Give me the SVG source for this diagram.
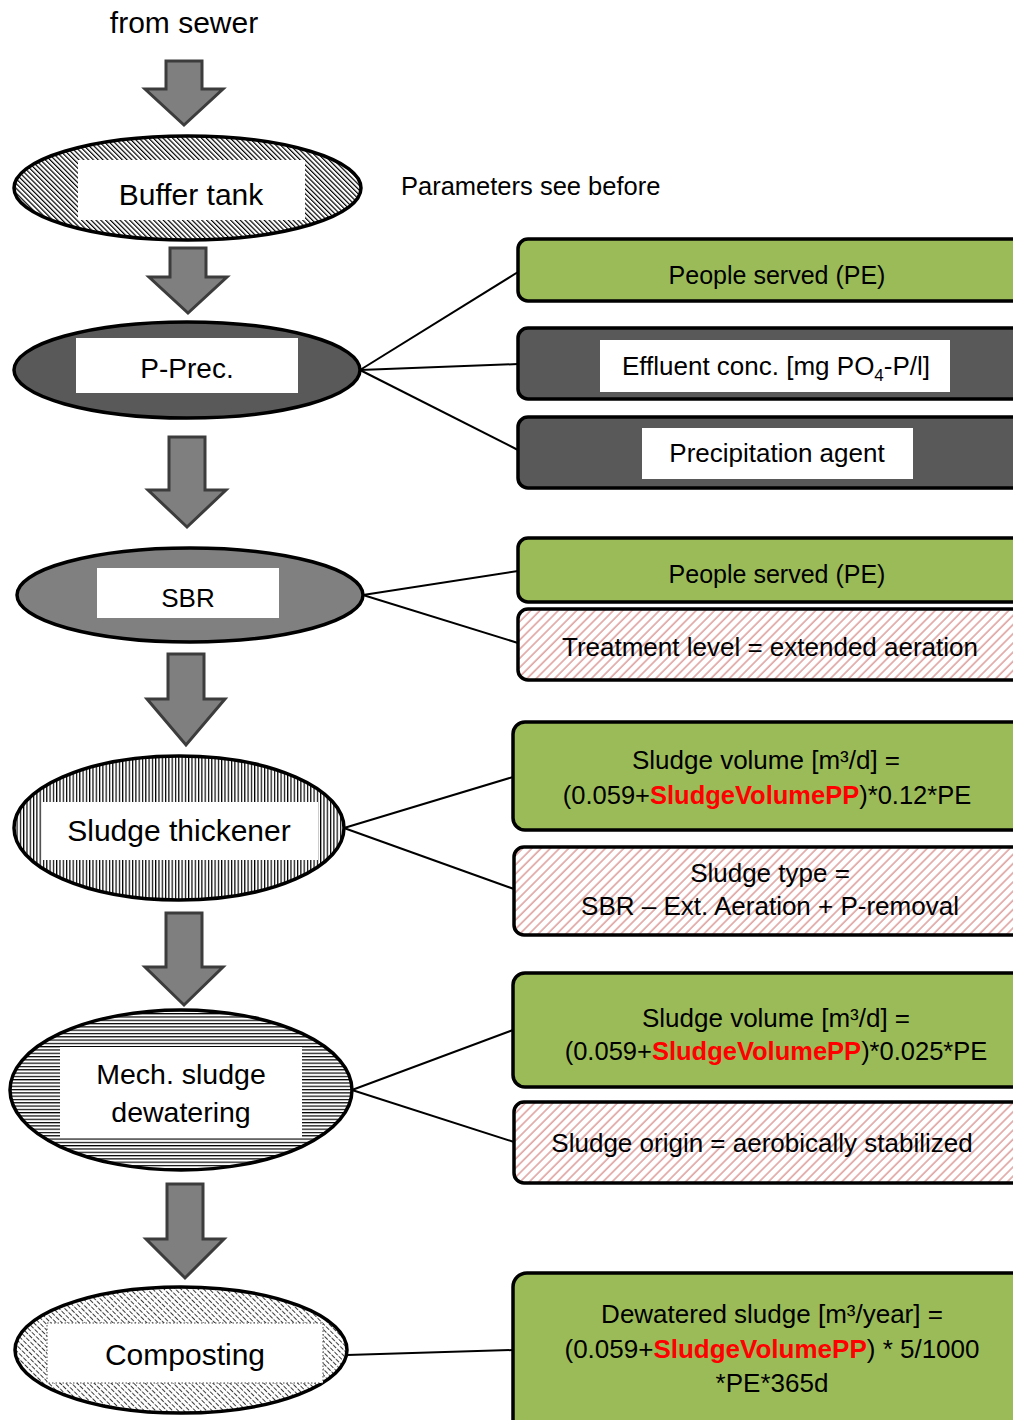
<svg xmlns="http://www.w3.org/2000/svg" width="1013" height="1420" viewBox="0 0 1013 1420">
<style>
text{font-family:"Liberation Sans",Arial,sans-serif;fill:#000}
.lbl{font-size:30px;text-anchor:middle}
.box{font-size:26px;text-anchor:middle}
.pe{font-size:25px}
.red{fill:#FF0000;font-weight:bold}
.ell{stroke:#000;stroke-width:3.5}
.arr{fill:#7f7f7f;stroke:#3c3c3c;stroke-width:3;stroke-linejoin:miter}
.rbox{stroke:#000;stroke-width:3.5}
.green{fill:#9BBB59}
.dark{fill:#595959}
.hatch{fill:url(#redHatch)}
.conn line{stroke:#000;stroke-width:2}
</style>
<defs>
<pattern id="diagDense" patternUnits="userSpaceOnUse" width="3.4" height="10" patternTransform="rotate(-45)">
<rect width="3.4" height="10" fill="#fff"/>
<line x1="0.6" y1="0" x2="0.6" y2="10" stroke="#000" stroke-width="1.2"/>
</pattern>
<pattern id="vert" patternUnits="userSpaceOnUse" width="3.3" height="10">
<rect width="3.3" height="10" fill="#fff"/>
<line x1="0.6" y1="0" x2="0.6" y2="10" stroke="#000" stroke-width="1.2"/>
</pattern>
<pattern id="horiz" patternUnits="userSpaceOnUse" width="10" height="3.3">
<rect width="10" height="3.3" fill="#fff"/>
<line x1="0" y1="0.6" x2="10" y2="0.6" stroke="#000" stroke-width="1.2"/>
</pattern>
<pattern id="dashDiag" patternUnits="userSpaceOnUse" width="4" height="6" patternTransform="rotate(-45)">
<rect width="4" height="6" fill="#fff"/>
<line x1="0.5" y1="0" x2="0.5" y2="6" stroke="#222" stroke-width="0.9" stroke-dasharray="3 1.5"/>
</pattern>
<pattern id="redHatch" patternUnits="userSpaceOnUse" width="6.5" height="10" patternTransform="rotate(45)">
<rect width="6.5" height="10" fill="#fff"/>
<line x1="1" y1="0" x2="1" y2="10" stroke="#DA9694" stroke-width="1.4"/>
</pattern>
</defs>

<text x="184" y="33" class="lbl">from sewer</text>
<text x="401" y="195" style="font-size:25.5px">Parameters see before</text>

<g id="flow-arrows">
<path class="arr" d="M166,61 H202 V89 H223 L184,125 L145,89 H166 Z"/>
<path class="arr" d="M170,248 H206 V277 H227 L188,313 L149,277 H170 Z"/>
<path class="arr" d="M169,437 H205 V490 H226 L187,527 L148,490 H169 Z"/>
<path class="arr" d="M168,654 H204 V699 H225 L186,745 L147,699 H168 Z"/>
<path class="arr" d="M166,913 H202 V967 H223 L184,1005 L145,967 H166 Z"/>
<path class="arr" d="M167,1184 H203 V1239 H224 L185,1278 L146,1239 H167 Z"/>
</g>

<g id="connectors" class="conn">
<line x1="360" y1="370" x2="518" y2="272"/>
<line x1="360" y1="370" x2="518" y2="364"/>
<line x1="360" y1="370" x2="518" y2="450"/>
<line x1="363" y1="595" x2="518" y2="571"/>
<line x1="363" y1="595" x2="518" y2="643"/>
<line x1="344" y1="828" x2="513" y2="777"/>
<line x1="344" y1="828" x2="514" y2="889"/>
<line x1="352" y1="1090" x2="513" y2="1030"/>
<line x1="352" y1="1090" x2="514" y2="1142"/>
<line x1="347" y1="1355" x2="513" y2="1350"/>
</g>

<g id="buffer-tank">
<ellipse class="ell" cx="187.5" cy="188" rx="173.5" ry="52" fill="url(#diagDense)"/>
<rect x="78" y="160" width="227" height="60" fill="#fff"/>
<text x="191" y="205" class="lbl">Buffer tank</text>
</g>

<g id="p-prec">
<ellipse class="ell" cx="187" cy="370" rx="173" ry="48" fill="#595959"/>
<rect x="76" y="338" width="222" height="55" fill="#fff"/>
<text x="187" y="378" class="lbl" style="font-size:28px">P-Prec.</text>
</g>

<g id="sbr">
<ellipse class="ell" cx="190" cy="595" rx="173" ry="47" fill="#808080"/>
<rect x="97" y="568" width="182" height="50" fill="#fff"/>
<text x="188" y="607" class="lbl" style="font-size:26px">SBR</text>
</g>

<g id="sludge-thickener">
<ellipse class="ell" cx="179" cy="828" rx="165" ry="72" fill="url(#vert)"/>
<rect x="42" y="802" width="276" height="58" fill="#fff"/>
<text x="179" y="841" class="lbl">Sludge thickener</text>
</g>

<g id="mech-dewatering">
<ellipse class="ell" cx="181" cy="1090" rx="171" ry="80" fill="url(#horiz)"/>
<rect x="60" y="1047" width="242" height="91" fill="#fff"/>
<text x="181" y="1084" class="lbl" style="font-size:28.5px">Mech. sludge</text>
<text x="181" y="1122" class="lbl" style="font-size:28.5px">dewatering</text>
</g>

<g id="composting">
<ellipse class="ell" cx="181" cy="1350" rx="166" ry="63" fill="url(#dashDiag)"/>
<rect x="47" y="1323" width="276" height="60" fill="#fff" stroke="#444" stroke-width="1" stroke-dasharray="1.5 2"/>
<text x="185" y="1365" class="lbl">Composting</text>
</g>

<g id="pprec-people">
<rect class="rbox green" x="518" y="239" width="520" height="62" rx="10"/>
<text x="777" y="284" class="box pe">People served (PE)</text>
</g>

<g id="pprec-effluent">
<rect class="rbox dark" x="518" y="328" width="520" height="71" rx="10"/>
<rect x="600" y="340" width="350" height="52" fill="#fff"/>
<text x="776" y="375" class="box">Effluent conc. [mg PO<tspan dy="6" style="font-size:17px">4</tspan><tspan dy="-6">-P/l]</tspan></text>
</g>

<g id="pprec-agent">
<rect class="rbox dark" x="518" y="417" width="520" height="71" rx="10"/>
<rect x="642" y="428" width="271" height="51" fill="#fff"/>
<text x="777" y="462" class="box">Precipitation agent</text>
</g>

<g id="sbr-people">
<rect class="rbox green" x="518" y="538" width="520" height="64" rx="10"/>
<text x="777" y="583" class="box pe">People served (PE)</text>
</g>

<g id="sbr-treatment">
<rect class="rbox hatch" x="518" y="609" width="520" height="71" rx="10"/>
<text x="770" y="656" class="box">Treatment level = extended aeration</text>
</g>

<g id="thickener-volume">
<rect class="rbox green" x="513" y="722" width="525" height="108" rx="12"/>
<text x="766" y="769" class="box">Sludge volume [m³/d] =</text>
<text x="767" y="804" class="box" style="font-size:25.5px">(0.059+<tspan class="red">SludgeVolumePP</tspan>)*0.12*PE</text>
</g>

<g id="thickener-type">
<rect class="rbox hatch" x="514" y="847" width="525" height="88" rx="10"/>
<text x="770" y="882" class="box">Sludge type =</text>
<text x="770" y="915" class="box">SBR – Ext. Aeration + P-removal</text>
</g>

<g id="dewatering-volume">
<rect class="rbox green" x="513" y="973" width="525" height="114" rx="12"/>
<text x="776" y="1027" class="box">Sludge volume [m³/d] =</text>
<text x="776" y="1060" class="box" style="font-size:25.5px">(0.059+<tspan class="red">SludgeVolumePP</tspan>)*0.025*PE</text>
</g>

<g id="dewatering-origin">
<rect class="rbox hatch" x="514" y="1102" width="525" height="81" rx="10"/>
<text x="762" y="1152" class="box">Sludge origin = aerobically stabilized</text>
</g>

<g id="composting-volume">
<rect class="rbox green" x="513" y="1273" width="525" height="160" rx="14"/>
<text x="772" y="1323" class="box">Dewatered sludge [m³/year] =</text>
<text x="772" y="1358" class="box">(0.059+<tspan class="red">SludgeVolumePP</tspan>) * 5/1000</text>
<text x="772" y="1392" class="box">*PE*365d</text>
</g>
</svg>
